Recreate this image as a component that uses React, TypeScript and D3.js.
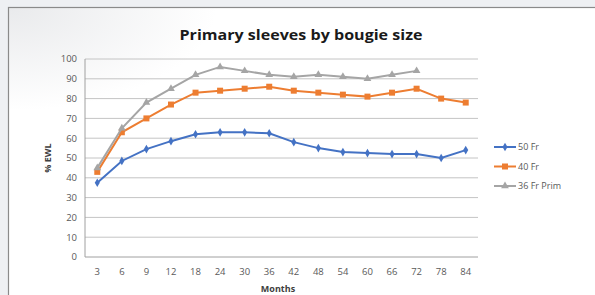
import React, { useRef, useEffect } from 'react';
import * as d3 from 'd3';

const months = ['3', '6', '9', '12', '18', '24', '30', '36', '42', '48', '54', '60', '66', '72', '78', '84'];
const fr50 = [37.5, 48.5, 54.5, 58.5, 62, 63, 63, 62.5, 58, 55, 53, 52.5, 52, 52, 50, 54];
const fr40 = [43, 63, 70, 77, 83, 84, 85, 86, 84, 83, 82, 81, 83, 85, 80, 78];
const fr36 = [45, 65, 78, 85, 92, 96, 94, 92, 91, 92, 91, 90, 92, 94, null, null];
const yTicks = [0, 10, 20, 30, 40, 50, 60, 70, 80, 90, 100];

const series = [
  { name: '50 Fr', values: fr50, color: '#4472c4', symbol: d3.symbolDiamond, size: 22 },
  { name: '40 Fr', values: fr40, color: '#ed7d31', symbol: d3.symbolSquare, size: 36 },
  { name: '36 Fr Prim', values: fr36, color: '#a5a5a5', symbol: d3.symbolTriangle, size: 26 },
];

const App = () => {
  const ref = useRef<SVGSVGElement>(null);

  useEffect(() => {
    if (!ref.current) return;
    const svg = d3.select(ref.current);
    svg.selectAll('*').remove();

    const W = 595, H = 295;
    const margin = { top: 59, right: 117, bottom: 38, left: 85 };
    const font = "'Open Sans', 'DejaVu Sans', sans-serif";

    // fondo
    const defs = svg.append('defs');
    const grad = defs.append('radialGradient').attr('id', 'shade')
      .attr('cx', '0').attr('cy', '0').attr('r', '0.35');
    grad.append('stop').attr('offset', '0').attr('stop-color', '#e9eaec');
    grad.append('stop').attr('offset', '1').attr('stop-color', '#ffffff');

    svg.append('rect').attr('width', W).attr('height', H).attr('fill', '#eef0f3');
    svg.append('rect').attr('x', 8.5).attr('y', 7.5).attr('width', W).attr('height', H)
      .attr('fill', 'url(#shade)').attr('stroke', '#8a8a8a').attr('stroke-width', 1.2);

    const x = d3.scaleBand().domain(months).range([margin.left, W - margin.right]);
    const y = d3.scaleLinear().domain([0, 100]).range([H - margin.bottom, margin.top]);
    const cx = (m: string) => (x(m) as number) + x.bandwidth() / 2;

    // grid
    svg.append('g').selectAll('line').data(yTicks).join('line')
      .attr('x1', margin.left).attr('x2', W - margin.right)
      .attr('y1', d => y(d)).attr('y2', d => y(d))
      .attr('stroke', d => d === 0 ? '#a0a0a0' : '#c4c4c4').attr('stroke-width', 1);
    svg.append('line').attr('x1', margin.left).attr('x2', margin.left)
      .attr('y1', y(0)).attr('y2', y(100)).attr('stroke', '#a0a0a0');

    svg.append('g').selectAll('text').data(yTicks).join('text')
      .attr('x', margin.left - 8).attr('y', d => y(d)).attr('dy', '0.35em')
      .attr('text-anchor', 'end').style('font', `9.5px ${font}`).attr('fill', '#595959')
      .text(d => d);

    svg.append('g').selectAll('text').data(months).join('text')
      .attr('x', d => cx(d)).attr('y', y(0) + 18)
      .attr('text-anchor', 'middle').style('font', `9.5px ${font}`).attr('fill', '#595959')
      .text(d => d);

    // titulos
    svg.append('text').attr('x', 301).attr('y', 40).attr('text-anchor', 'middle')
      .style('font', `bold 15px ${font}`).attr('fill', '#1a1a1a')
      .attr('textLength', 243).attr('lengthAdjust', 'spacingAndGlyphs')
      .text('Primary sleeves by bougie size');
    svg.append('text').attr('x', 278).attr('y', 292).attr('text-anchor', 'middle')
      .style('font', `bold 9px ${font}`).attr('fill', '#404040').text('Months');
    svg.append('text').attr('transform', `translate(51,${(y(0) + y(100)) / 2}) rotate(-90)`)
      .attr('text-anchor', 'middle').style('font', `bold 9px ${font}`).attr('fill', '#404040')
      .text('% EWL');

    // lineas
    const line = d3.line<number | null>()
      .defined(d => d != null)
      .x((_, i) => cx(months[i]))
      .y(d => y(d as number));

    series.forEach(s => {
      svg.append('path').datum(s.values).attr('d', line)
        .attr('fill', 'none').attr('stroke', s.color).attr('stroke-width', 2);
      svg.append('g').selectAll('path')
        .data(s.values.map((v, i) => ({ v, m: months[i] })).filter(d => d.v != null))
        .join('path')
        .attr('d', d3.symbol().type(s.symbol).size(s.size))
        .attr('transform', d => `translate(${cx(d.m)},${y(d.v as number)})`)
        .attr('fill', s.color);
    });

    // leyenda
    const leg = svg.append('g').attr('transform', 'translate(494,147)');
    series.forEach((s, i) => {
      const g = leg.append('g').attr('transform', `translate(0,${i * 19.5})`);
      g.append('line').attr('x1', 0).attr('x2', 22).attr('stroke', s.color).attr('stroke-width', 2);
      g.append('path').attr('d', d3.symbol().type(s.symbol).size(s.size)).attr('transform', 'translate(11,0)')
        .attr('fill', s.color);
      g.append('text').attr('x', 24).attr('dy', '0.35em').style('font', `9px ${font}`)
        .attr('fill', '#595959').text(s.name);
    });
  }, []);

  return <svg ref={ref} width={595} height={295} style={{ position: 'absolute', left: 0, top: 0 }} />;
};

export default App;
